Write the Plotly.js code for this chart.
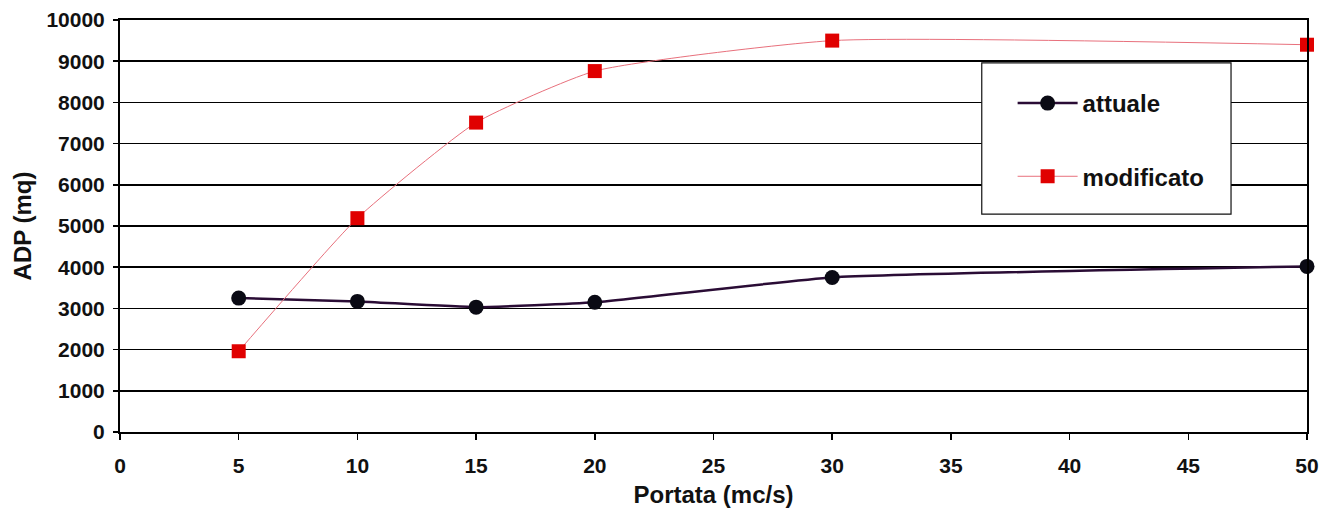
<!DOCTYPE html>
<html>
<head>
<meta charset="utf-8">
<script src="https://cdn.plot.ly/plotly-3.0.1.min.js"></script>
<style>html,body{margin:0;padding:0;background:#fff;}#chart{width:1320px;height:513px;}</style>
</head>
<body>
<div id="chart"></div>
<script>
const portata = [5, 10, 15, 20, 30, 50];
const attuale = [3250, 3170, 3030, 3150, 3750, 4020];
const modificato = [1960, 5190, 7510, 8760, 9500, 9400];
const seriesNames = ['attuale', 'modificato'];
const xTicks = [0, 5, 10, 15, 20, 25, 30, 35, 40, 45, 50];
const yTicks = [0, 1000, 2000, 3000, 4000, 5000, 6000, 7000, 8000, 9000, 10000];

const font = 'Liberation Sans, Arial, sans-serif';

const traces = [
  {
    x: portata, y: attuale, name: seriesNames[0], type: 'scatter', mode: 'lines+markers',
    legendgroup: 'a', cliponaxis: false,
    line: {color: '#2a0c35', width: 2.5, shape: 'spline', smoothing: 0.4},
    marker: {symbol: 'circle', size: 15, color: '#0a0a14'}
  },
  {
    x: portata, y: modificato, name: seriesNames[1], type: 'scatter', mode: 'lines+markers',
    legendgroup: 'b', cliponaxis: false,
    line: {color: '#e8707c', width: 1, shape: 'spline', smoothing: 0.5},
    marker: {symbol: 'square', size: 14, color: '#e00000'}
  }
];

const layout = {
  width: 1320, height: 513,
  margin: {l: 120, r: 13, t: 20, b: 81},
  paper_bgcolor: '#ffffff', plot_bgcolor: '#ffffff',
  font: {family: font, color: '#111', size: 16},
  showlegend: true,
  legend: {
    x: 0.752, y: 0.852, xanchor: 'left', yanchor: 'top',
    bgcolor: 'rgba(0,0,0,0)', borderwidth: 0,
    traceorder: 'grouped', tracegroupgap: 39, itemwidth: 60,
    font: {family: font, size: 24, color: '#111', weight: 'bold'}
  },
  xaxis: {
    range: [0, 50], tickvals: xTicks, ticktext: xTicks.map(String),
    showgrid: false, zeroline: false,
    showline: true, linecolor: '#000', linewidth: 2, mirror: true,
    ticks: 'outside', ticklen: 6, tickwidth: 1.5, tickcolor: '#000',
    ticklabelstandoff: 8,
    tickfont: {family: font, size: 21, weight: 'bold', color: '#111'},
    title: {text: '<b>Portata (mc/s)</b>', font: {family: font, size: 24, color: '#111'}, standoff: 10}
  },
  yaxis: {
    range: [0, 10000], tickvals: yTicks, ticktext: yTicks.map(String),
    showgrid: true, gridcolor: '#000', gridwidth: 1.5, zeroline: false,
    showline: true, linecolor: '#000', linewidth: 2, mirror: true,
    ticks: 'outside', ticklen: 5, tickwidth: 1.5, tickcolor: '#000',
    ticklabelstandoff: 4,
    tickfont: {family: font, size: 21, weight: 'bold', color: '#111'},
    title: {text: '<b>ADP (mq)</b>', font: {family: font, size: 24, color: '#111'}, standoff: 8}
  },
  shapes: [
    {type: 'rect', xref: 'paper', yref: 'paper', x0: 0.726, x1: 0.936, y0: 0.529, y1: 0.896,
     fillcolor: '#ffffff', line: {color: '#111', width: 1.2}, layer: 'above'}
  ]
};

Plotly.newPlot('chart', traces, layout, {staticPlot: true, displayModeBar: false});
</script>
</body>
</html>
